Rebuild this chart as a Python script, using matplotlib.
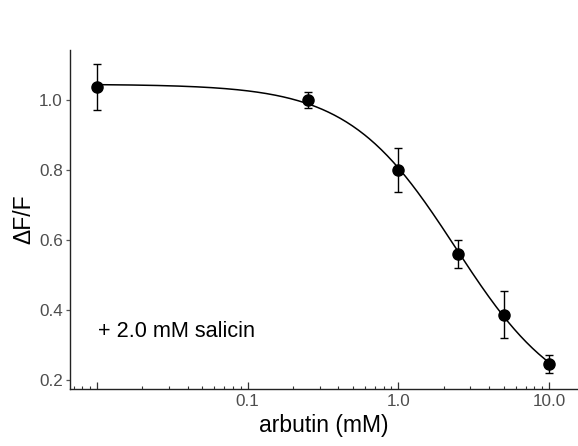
import matplotlib
matplotlib.use('Agg')
import matplotlib.pyplot as plt
import numpy as np
from matplotlib.ticker import FixedLocator, FixedFormatter, LogLocator, NullFormatter

plt.rcParams['font.family'] = ['Liberation Sans', 'DejaVu Sans']

# arbutin concentration (mM) and normalised response
arbutin = [0.01, 0.25, 1.0, 2.5, 5.0, 10.0]
dff = [1.037, 1.000, 0.800, 0.559, 0.386, 0.246]
dff_err = [0.065, 0.022, 0.064, 0.040, 0.067, 0.026]

# four-parameter logistic fit
fit_top, fit_bottom, fit_ic50, fit_hill = 1.045, 0.11, 2.4, 1.22

xticks = [0.01, 0.1, 1.0, 10.0]
xticklabels = ['', '0.1', '1.0', '10.0']
yticks = [0.2, 0.4, 0.6, 0.8, 1.0]
yticklabels = ['0.2', '0.4', '0.6', '0.8', '1.0']

fig = plt.figure(figsize=(5.78, 4.46), dpi=100)
ax = fig.add_axes([0.121, 0.128, 0.879, 0.760])

xs = np.logspace(np.log10(arbutin[0]), np.log10(arbutin[-1]), 300)
ys = fit_bottom + (fit_top - fit_bottom) / (1 + (xs / fit_ic50) ** fit_hill)
ax.plot(xs, ys, color='black', lw=1.1, zorder=2)

ax.errorbar(arbutin, dff, yerr=dff_err, fmt='o', color='black', ms=8,
            capsize=2.8, elinewidth=1.0, capthick=1.0, zorder=3)

ax.set_xscale('log')
ax.set_xlim(10 ** -2.179, 10 ** 1.192)
ax.set_ylim(0.174, 1.143)

ax.xaxis.set_major_locator(FixedLocator(xticks))
ax.xaxis.set_major_formatter(FixedFormatter(xticklabels))
ax.xaxis.set_minor_locator(LogLocator(base=10, subs=np.arange(2, 10)))
ax.xaxis.set_minor_formatter(NullFormatter())
ax.set_yticks(yticks)
ax.set_yticklabels(yticklabels)

for side in ['top', 'right']:
    ax.spines[side].set_visible(False)
for side in ['left', 'bottom']:
    ax.spines[side].set_linewidth(1.0)
    ax.spines[side].set_color('#222222')

ax.tick_params(axis='x', which='major', direction='in', length=5, width=0.9,
               color='#333333', labelsize=12.3, labelcolor='#4d4d4d', pad=4)
ax.tick_params(axis='x', which='minor', direction='in', length=2.5, width=0.8,
               color='#333333')
ax.tick_params(axis='y', direction='out', length=3, width=0.9, color='#555555',
               labelsize=12.3, labelcolor='#4d4d4d', pad=2)

ax.set_xlabel('arbutin (mM)', fontsize=16.5, labelpad=3)
ax.set_ylabel('ΔF/F', fontsize=16.5, labelpad=3)

ax.text(0.0102, 0.323, '+ 2.0 mM salicin', fontsize=15.6, color='black',
        ha='left', va='baseline')

fig.savefig('out.png', dpi=100)
